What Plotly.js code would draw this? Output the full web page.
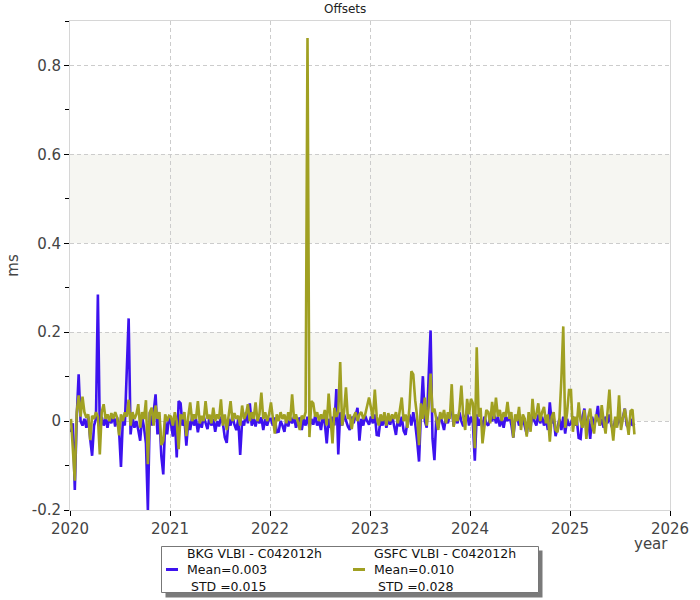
<!DOCTYPE html>
<html>
<head>
<meta charset="utf-8">
<script src="https://cdn.plot.ly/plotly-3.0.1.min.js"></script>
<style>html,body{margin:0;padding:0;background:#fff;}#chart{width:700px;height:600px;}</style>
</head>
<body>
<div id="chart"></div>
<script>
// ---- data (ms), weekly samples per year ----
const years = [2020, 2021, 2022, 2023, 2024, 2025];
const samplesPerYear = 52;

const bkg2020 = [-0.025,-0.005,-0.155,0.01,0.105,0.0,-0.01,0.005,-0.015,0.01,-0.04,-0.078,-0.01,0.005,0.285,-0.02,0.01,-0.01,0.005,-0.015,0.01,-0.005,0.015,-0.012,0.008,-0.02,-0.103,0.005,-0.01,0.115,0.231,-0.03,0.01,-0.015,0.0,-0.02,-0.044,0.01,-0.015,-0.05,-0.2,0.02,-0.01,0.02,0.06,-0.03,0.01,-0.079,-0.12,0.0,-0.03,0.01];
const bkg2021 = [-0.005,-0.035,0.01,-0.082,0.045,0.04,-0.01,0.005,-0.055,0.0,-0.02,0.01,-0.01,0.005,-0.025,0.0,-0.015,0.01,-0.005,-0.018,0.008,-0.01,0.005,-0.024,0.0,-0.012,0.01,-0.005,-0.037,-0.049,0.005,-0.01,0.012,-0.008,-0.02,0.005,-0.076,0.0,-0.01,0.02,-0.005,0.04,-0.01,0.005,-0.012,0.01,-0.005,0.008,-0.02,0.005,-0.01,0.005];
const bkg2022 = [0.005,-0.01,0.008,-0.025,-0.024,0.0,-0.01,-0.024,0.005,-0.012,0.008,-0.005,0.01,-0.015,0.0,0.008,-0.02,0.005,-0.01,0.01,-0.015,0.005,-0.008,0.012,-0.01,0.0,-0.02,0.01,-0.005,-0.05,0.005,-0.015,0.01,-0.01,0.072,-0.075,0.02,-0.01,0.015,0.0,-0.012,-0.02,0.01,-0.005,0.015,0.03,-0.044,0.005,-0.01,0.012,0.0,-0.008];
const bkg2023 = [0.01,-0.005,0.015,-0.031,-0.032,0.005,-0.01,0.01,-0.015,0.005,-0.008,0.012,-0.01,-0.031,0.005,-0.012,0.01,-0.022,-0.031,0.0,0.015,-0.01,0.02,-0.005,-0.044,-0.091,0.02,0.101,0.0,-0.015,0.1,0.204,-0.039,-0.088,0.01,-0.015,0.015,0.0,-0.02,0.01,-0.005,0.015,0.027,-0.01,0.01,-0.005,0.02,0.0,-0.012,0.01,0.02,-0.01];
const bkg2024 = [0.01,-0.005,-0.089,0.015,-0.01,0.005,-0.015,0.01,-0.005,-0.01,0.008,0.0,0.015,-0.005,0.01,-0.012,0.005,-0.015,0.01,0.0,0.012,-0.008,-0.037,0.005,0.01,-0.01,0.0,0.008,-0.012,-0.03,0.005,-0.015,0.02,0.0,-0.01,0.015,-0.005,0.01,-0.01,0.005,-0.02,0.042,-0.005,0.008,-0.034,-0.01,0.005,-0.02,0.01,-0.028,0.005,-0.01];
const bkg2025 = [-0.005,0.01,-0.01,0.005,-0.038,-0.04,0.01,0.028,-0.015,0.005,-0.04,0.01,-0.01,0.005,0.034,-0.01,0.005,-0.015,0.01,-0.005,0.015,-0.01,-0.02,0.005,-0.01,0.01,-0.005,0.008,0.028,-0.01,-0.015,0.005,-0.01,-0.005];

const gsfc2020 = [0.005,-0.06,-0.134,0.02,0.058,0.01,0.055,0.02,0.008,0.015,-0.043,0.012,0.005,0.02,0.01,-0.075,0.02,0.038,0.005,0.015,0.0,0.018,0.005,0.02,0.008,-0.032,0.015,0.0,0.02,0.01,0.048,-0.01,0.02,0.005,0.015,0.038,-0.015,0.02,0.005,0.047,-0.097,0.02,0.03,-0.01,0.035,0.005,0.02,-0.054,-0.044,0.015,0.0,0.012];
const gsfc2021 = [0.01,-0.01,0.02,0.0,-0.063,0.015,0.005,0.02,-0.034,0.01,0.042,0.0,0.015,0.005,0.045,-0.005,0.012,0.0,0.045,0.005,0.015,-0.005,0.03,0.0,0.015,0.005,0.049,-0.01,0.015,-0.02,0.01,0.045,0.0,0.018,0.005,0.012,-0.01,0.035,0.005,0.015,0.038,0.0,0.02,0.005,0.042,0.0,0.015,0.064,0.005,0.02,0.0,0.015];
const gsfc2022 = [0.042,0.01,-0.028,0.015,0.0,0.02,0.005,0.015,-0.005,0.02,0.0,0.06,0.005,0.015,0.0,-0.02,0.012,0.005,0.02,0.862,-0.036,0.045,0.04,0.01,0.02,0.0,0.015,0.005,0.025,-0.01,0.062,0.005,-0.05,0.03,0.01,0.02,0.133,-0.01,0.02,0.076,0.005,0.015,-0.018,0.01,0.02,0.0,0.015,0.02,0.005,0.015,0.035,0.053];
const gsfc2023 = [0.03,0.005,0.071,0.01,-0.01,0.015,0.0,0.02,-0.01,0.018,0.0,0.015,0.005,0.02,-0.005,0.025,0.053,0.0,0.015,-0.015,0.03,0.112,0.105,0.047,0.01,-0.054,0.04,0.005,0.053,-0.01,0.03,0.107,0.02,0.028,0.005,-0.02,0.02,0.005,0.025,-0.005,0.02,0.005,0.083,-0.013,0.015,0.0,0.025,0.08,0.01,-0.02,0.05,0.015];
const gsfc2024 = [0.05,0.04,-0.061,0.166,0.01,0.03,-0.05,-0.015,0.025,0.02,-0.005,0.043,0.005,0.053,0.01,0.025,0.0,0.02,0.01,0.043,0.005,0.02,-0.037,0.015,0.0,0.032,-0.02,0.015,0.005,-0.035,0.02,-0.024,0.05,0.005,0.015,0.04,0.0,0.02,0.032,-0.005,0.015,-0.046,0.01,0.02,-0.02,-0.025,0.005,0.094,0.213,-0.015,0.02,0.07];
const gsfc2025 = [0.07,-0.024,0.01,-0.01,0.042,0.0,-0.015,0.025,-0.04,0.01,0.028,-0.01,-0.028,0.015,0.005,-0.01,0.036,0.0,-0.028,0.02,0.071,-0.005,-0.044,0.01,-0.015,0.058,-0.02,0.005,0.028,0.0,-0.031,0.023,0.026,-0.03];

const seriesNames = ["BKG VLBI - C042012h", "GSFC VLBI - C042012h"];
const seriesMeans = ["0.003", "0.010"];
const seriesStds = ["0.015", "0.028"];
const seriesColors = ["#3d12ef", "#a0a022"];

const yTickVals = [-0.2, 0, 0.2, 0.4, 0.6, 0.8];
const yTickText = ["-0.2", "0", "0.2", "0.4", "0.6", "0.8"];
const yMinorVals = [-0.1, 0.1, 0.3, 0.5, 0.7, 0.9];
const xTickVals = [2020, 2021, 2022, 2023, 2024, 2025, 2026];

function build(blocks) {
  const xs = [], ys = [];
  blocks.forEach(function (vals, i) {
    vals.forEach(function (v, j) {
      xs.push(years[i] + (j + 0.5) / samplesPerYear);
      ys.push(v);
    });
  });
  return {x: xs, y: ys};
}

const bkg = build([bkg2020, bkg2021, bkg2022, bkg2023, bkg2024, bkg2025]);
const gsfc = build([gsfc2020, gsfc2021, gsfc2022, gsfc2023, gsfc2024, gsfc2025]);

const traces = [
  {x: bkg.x, y: bkg.y, type: 'scatter', mode: 'lines', name: seriesNames[0],
   line: {color: seriesColors[0], width: 2.6}},
  {x: gsfc.x, y: gsfc.y, type: 'scatter', mode: 'lines', name: seriesNames[1],
   line: {color: seriesColors[1], width: 2.6}}
];

const font = 'DejaVu Sans, Verdana, sans-serif';

// ---- pixel helpers for layout placement (plot area: x 70..670, y 21..510) ----
const px = function (X) { return (X - 70) / 600; };
const py = function (Y) { return (510 - Y) / 489; };

// alternating background bands between major ticks (0–0.2, 0.4–0.6)
const shapes = [];
for (let i = 1; i + 1 < yTickVals.length; i += 2) {
  shapes.push({type: 'rect', xref: 'paper', yref: 'y', x0: 0, x1: 1,
    y0: yTickVals[i], y1: yTickVals[i + 1], fillcolor: '#f6f6f2',
    line: {width: 0}, layer: 'below'});
}

// ---- legend box (drawn below the plot, with a drop shadow) ----
const box = {l: 161.5, r: 538.5, t: 546.5, b: 592.5};
shapes.push({type: 'rect', xref: 'paper', yref: 'paper',
  x0: px(box.l + 4), x1: px(box.r + 4), y0: py(box.b + 5), y1: py(box.t + 4),
  fillcolor: '#6b6b6b', opacity: 0.9, line: {width: 0}, layer: 'above'});
shapes.push({type: 'rect', xref: 'paper', yref: 'paper',
  x0: px(box.l), x1: px(box.r), y0: py(box.b), y1: py(box.t),
  fillcolor: '#ffffff', line: {color: '#777777', width: 1}, layer: 'above'});

const annotations = [];
const entryLeft = [166, 353];
const textLeft = [186, 373];
const midRowY = 569.5;
seriesNames.forEach(function (name, i) {
  shapes.push({type: 'line', xref: 'paper', yref: 'paper',
    x0: px(entryLeft[i]), x1: px(entryLeft[i] + 12), y0: py(midRowY), y1: py(midRowY),
    line: {color: seriesColors[i], width: 3}, layer: 'above'});
  const text = name + '<br>Mean=' + seriesMeans[i] + '<br>\u00a0STD\u00a0=' + seriesStds[i];
  annotations.push({text: text, xref: 'paper', yref: 'paper',
    x: px(textLeft[i]), y: py(midRowY), xanchor: 'left', yanchor: 'middle', align: 'left',
    showarrow: false, borderpad: 0,
    font: {family: font, size: 12.5, color: '#111'}});
});

annotations.push({text: 'year', xref: 'paper', yref: 'paper', x: 1, y: py(544),
  xanchor: 'right', yanchor: 'middle', showarrow: false,
  font: {family: font, size: 15, color: '#444'}});

const layout = {
  width: 700, height: 600,
  margin: {l: 70, r: 30, t: 21, b: 90, autoexpand: false},
  paper_bgcolor: '#fff', plot_bgcolor: '#fff',
  font: {family: font, size: 15, color: '#444'},
  title: {text: 'Offsets', font: {family: font, size: 12, color: '#222'},
    x: 0.493, xref: 'container', y: 0.992, yref: 'container', yanchor: 'top'},
  xaxis: {
    range: [2020, 2026], tickmode: 'array', tickvals: xTickVals,
    ticks: 'outside', ticklen: 5, tickcolor: '#000', tickwidth: 1,
    showgrid: true, gridcolor: '#cccccc', griddash: '4px,3px', gridwidth: 1,
    showline: true, linecolor: '#d6d6d6', linewidth: 1, mirror: true,
    zeroline: false, tickfont: {family: font, size: 15, color: '#444'},
    automargin: false
  },
  yaxis: {
    range: [-0.2, 0.9], tickmode: 'array', tickvals: yTickVals, ticktext: yTickText,
    ticks: 'outside', ticklen: 5, tickcolor: '#000', tickwidth: 1,
    minor: {tickmode: 'array', tickvals: yMinorVals, ticks: 'outside', ticklen: 4,
      tickcolor: '#000', showgrid: false},
    showgrid: true, gridcolor: '#cccccc', griddash: '4px,3px', gridwidth: 1,
    showline: true, linecolor: '#d6d6d6', linewidth: 1, mirror: true,
    zeroline: false, tickfont: {family: font, size: 15, color: '#444'},
    title: {text: 'ms', font: {family: font, size: 15, color: '#444'}, standoff: 9},
    automargin: false
  },
  showlegend: false,
  shapes: shapes,
  annotations: annotations
};

Plotly.newPlot('chart', traces, layout, {displayModeBar: false, staticPlot: true});
</script>
</body>
</html>
